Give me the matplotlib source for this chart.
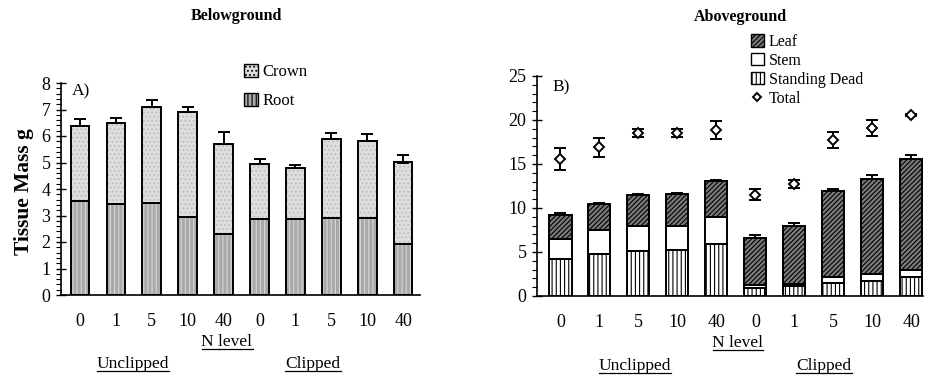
"""Figure: belowground and aboveground tissue mass by N level and clipping."""
import numpy as np
import matplotlib; matplotlib.use("Agg")
import matplotlib.pyplot as plt
from matplotlib.patches import Patch
from matplotlib.lines import Line2D

plt.rcParams["font.family"] = ["Liberation Serif", "DejaVu Serif"]
plt.rcParams["hatch.linewidth"] = 0.8

n_levels = ["0", "1", "5", "10", "40", "0", "1", "5", "10", "40"]

# Belowground (panel A)
root = [3.55, 3.44, 3.49, 2.93, 2.29, 2.86, 2.87, 2.90, 2.90, 1.94]
crown = [2.84, 3.05, 3.59, 3.96, 3.42, 2.08, 1.94, 2.97, 2.92, 3.06]
below_err = [0.26, 0.19, 0.29, 0.19, 0.45, 0.19, 0.09, 0.26, 0.24, 0.29]

# Aboveground (panel B)
dead = [4.24, 4.81, 5.11, 5.19, 5.95, 0.95, 1.14, 1.48, 1.67, 2.16]
stem = [2.24, 2.65, 2.88, 2.73, 3.03, 0.34, 0.22, 0.68, 0.87, 0.79]
leaf = [2.76, 2.96, 3.45, 3.71, 4.12, 5.26, 6.59, 9.73, 10.76, 12.62]
above_err = [0.19, 0.15, 0.11, 0.05, 0.10, 0.38, 0.35, 0.27, 0.45, 0.41]
total = [15.57, 16.89, 18.48, 18.48, 18.83, 11.52, 12.77, 17.77, 19.13, 20.53]
total_err = [1.25, 1.06, 0.45, 0.45, 1.0, 0.65, 0.45, 0.9, 0.9, 0.12]

x = np.arange(len(n_levels))
W, H = 928, 376
fig = plt.figure(figsize=(W / 100, H / 100), dpi=100)

def fpos(l, t, r, b):
    return [l / W, 1 - b / H, (r - l) / W, (b - t) / H]

axA = fig.add_axes(fpos(61, 83, 420, 295))
axB = fig.add_axes(fpos(537, 76, 923, 296))

def hbar(ax, bottom, vals, width, face, hatch, hcol):
    ax.bar(x, vals, width, bottom=bottom, color=face, hatch=hatch,
           edgecolor=hcol, linewidth=0, zorder=2)
    ax.bar(x, vals, width, bottom=bottom, fill=False, edgecolor="black",
           linewidth=1.4, zorder=3)

# Panel A
wA = 0.52
hbar(axA, 0, root, wA, "#a9a9a9", "||||", "#d6d6d6")
topA = np.array(root) + np.array(crown)
hbar(axA, root, crown, wA, "#dedede", "....", "#bdbdbd")
axA.errorbar(x, topA, yerr=[np.zeros(10), below_err], fmt="none",
             ecolor="black", elinewidth=1.4, capsize=4, capthick=1.4, zorder=4)
axA.set_xlim(-0.53, 9.47)
axA.set_ylim(0, 8)
axA.set_yticks(range(9))
axA.set_yticks(np.arange(0, 8.01, 0.2), minor=True)

# Panel B
wB = 0.57
hbar(axB, 0, dead, wB, "white", "||||", "black")
hbar(axB, dead, stem, wB, "white", None, "black")
b2 = np.array(dead) + np.array(stem)
hbar(axB, b2, leaf, wB, "#7a7a7a", "///////", "black")
topB = b2 + np.array(leaf)
axB.errorbar(x, topB, yerr=[np.zeros(10), above_err], fmt="none",
             ecolor="black", elinewidth=1.4, capsize=4, capthick=1.4, zorder=4)
axB.errorbar(x, total, yerr=total_err, fmt="D", ms=5, mfc="white",
             mec="black", mew=1.4, ecolor="black", elinewidth=1.4,
             capsize=4, capthick=1.4, zorder=4)
axB.set_xlim(-0.6, 9.3)
axB.set_ylim(0, 25)
axB.set_yticks(range(0, 26, 5))
axB.set_yticks(range(0, 26), minor=True)

for ax in (axA, axB):
    for s in ("top", "right"):
        ax.spines[s].set_visible(False)
    ax.spines["left"].set_linewidth(1.2)
    ax.spines["bottom"].set_linewidth(1.2)
    ax.set_xticks(x)
    ax.set_xticklabels(n_levels, fontsize=13)
    ax.tick_params(axis="x", length=0, pad=13)
    ax.tick_params(axis="y", which="major", direction="inout", length=7,
                   width=1.0, labelsize=13, pad=4)
    ax.tick_params(axis="y", which="minor", direction="out", length=3.5, width=0.8)

axA.text(0.03, 1.0, "A)", transform=axA.transAxes, fontsize=12.5, va="top")
axB.text(0.04, 0.985, "B)", transform=axB.transAxes, fontsize=12.5, va="top")

fig.text(24 / W, 1 - 192 / H, "Tissue Mass g", rotation=90, fontsize=15.5,
         fontweight="bold", ha="center", va="center")
fig.text(236 / W, 1 - 16 / H, "Belowground", fontsize=11.5, fontweight="bold",
         ha="center", va="center")
fig.text(740 / W, 1 - 17 / H, "Aboveground", fontsize=11.5, fontweight="bold",
         ha="center", va="center")

# legends
legA = [Patch(facecolor="#dedede", edgecolor="black", hatch="....", label="Crown"),
        Patch(facecolor="#a9a9a9", edgecolor="black", hatch="||||", label="Root")]
fig.legend(handles=legA, loc="upper left", bbox_to_anchor=(236 / W, 1 - 56 / H),
           frameon=False, fontsize=12, handlelength=0.8, handleheight=0.8,
           handletextpad=0.3, labelspacing=0.75, borderpad=0)
legB = [Patch(facecolor="#7a7a7a", edgecolor="black", hatch="///////", label="Leaf"),
        Patch(facecolor="white", edgecolor="black", label="Stem"),
        Patch(facecolor="white", edgecolor="black", hatch="||||", label="Standing Dead"),
        Line2D([], [], marker="D", ls="none", ms=4.5, mfc="white", mec="black",
               mew=1.4, label="Total")]
fig.legend(handles=legB, loc="upper left", bbox_to_anchor=(743 / W, 1 - 26 / H),
           frameon=False, fontsize=11.5, handlelength=0.8, handleheight=0.8,
           handletextpad=0.3, labelspacing=0.18, borderpad=0)

# underlined group labels
labels = [("N level", 227, 342), ("Unclipped", 133, 364), ("Clipped", 313, 364),
          ("N level", 738, 343), ("Unclipped", 635, 366), ("Clipped", 824, 366)]
texts = [fig.text(px / W, 1 - py / H, s, fontsize=12.5, ha="center", va="center")
         for s, px, py in labels]
fig.canvas.draw()
inv = fig.transFigure.inverted()
for t in texts:
    bb = t.get_window_extent()
    (x0, y0), (x1, _) = inv.transform([(bb.x0, bb.y0 + 1.5), (bb.x1, bb.y1)])
    fig.add_artist(Line2D([x0, x1], [y0, y0], transform=fig.transFigure,
                          color="black", lw=0.9))

fig.savefig("out.png", dpi=100)
